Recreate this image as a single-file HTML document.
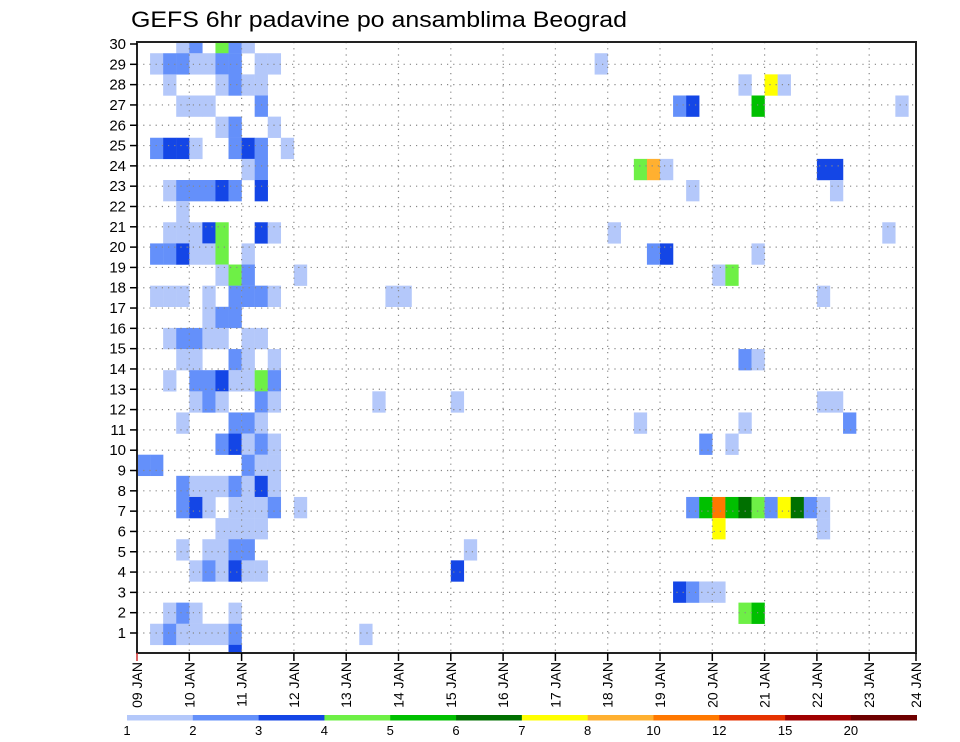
<!DOCTYPE html>
<html><head><meta charset="utf-8"><style>
html,body{margin:0;padding:0;background:#fff;}
svg{display:block;font-family:"Liberation Sans",sans-serif;}
</style></head><body>
<svg id="chart" width="960" height="742" viewBox="0 0 960 742" xmlns="http://www.w3.org/2000/svg">
<text x="131" y="27" font-size="22" textLength="496" lengthAdjust="spacingAndGlyphs" fill="#000">GEFS 6hr padavine po ansamblima Beograd</text>
<defs><clipPath id="plotclip"><rect x="137" y="42" width="779" height="611"/></clipPath></defs>
<g id="cells" clip-path="url(#plotclip)"></g>
<g id="grid"></g>
<rect x="137" y="42" width="779" height="611" fill="none" stroke="#222" stroke-width="2"/>
<g id="yaxis"></g>
<g id="xaxis"></g>
<g id="legend"></g>
</svg>
<script>
// ensemble member (band), 6h time step index from 09 JAN 00z, precip value (mm)
const members = [
30,30,30,30,30,
29,29,29,29,29,29,29,29,29,29,
28,28,28,28,28,28,28,28,
27,27,27,27,27,27,27,27,
26,26,26,
25,25,25,25,25,25,25,25,
24,24,24,24,24,24,24,
23,23,23,23,23,23,23,23,23,
22,
21,21,21,21,21,21,21,21,21,
20,20,20,20,20,20,20,20,20,20,
19,19,19,19,19,19,
18,18,18,18,18,18,18,18,18,18,18,
17,17,17,
16,16,16,16,16,16,16,
15,15,15,15,15,15,15,
14,14,14,14,14,14,14,14,
13,13,13,13,13,13,13,13,13,
12,12,12,12,12,12,12,
11,11,11,11,11,11,11,
10,10,10,10,10,
9,9,9,9,9,9,9,9,
8,8,8,8,8,8,8,8,8,8,8,8,8,8,8,8,8,8,8,
7,7,7,7,7,7,
6,6,6,6,6,6,
5,5,5,5,5,5,5,
4,4,4,4,
3,3,3,3,3,3,
2,2,2,2,2,2,2,2,
1];
const steps = [
3,4,6,7,8,
1,2,3,4,5,6,7,9,10,35,
2,6,7,8,9,46,48,49,
3,4,5,9,41,42,47,58,
6,7,10,
1,2,3,4,7,8,9,11,
8,9,38,39,40,52,53,
2,3,4,5,6,7,9,42,53,
3,
2,3,4,5,6,9,10,36,57,
1,2,3,4,5,6,8,39,40,47,
6,7,8,12,44,45,
1,2,3,5,7,8,9,10,19,20,52,
5,6,7,
2,3,4,5,6,8,9,
3,4,7,8,10,46,47,
2,4,5,6,7,8,9,10,
4,5,6,9,10,18,24,52,53,
3,7,8,9,38,46,54,
6,7,8,9,10,43,45,
0,1,8,9,10,
3,4,5,6,7,8,9,10,
3,4,5,7,8,9,10,12,42,43,44,45,46,47,48,49,50,51,52,
6,7,8,9,44,52,
3,5,6,7,8,25,
4,5,6,7,8,9,24,
41,42,43,44,
2,3,4,7,46,47,
1,2,3,4,5,6,7,17,
7];
const precip = [
1.5,2.5,4.5,2.5,1.5,
1.5,2.5,2.5,1.5,1.5,2.5,2.5,1.5,1.5,1.5,
1.5,1.5,2.5,1.5,1.5,1.5,7.5,1.5,
1.5,1.5,1.5,2.5,2.5,3.5,5.5,1.5,
1.5,2.5,1.5,
2.5,3.5,3.5,1.5,2.5,3.5,2.5,1.5,
1.5,2.5,4.5,9,1.5,3.5,3.5,
1.5,2.5,2.5,2.5,3.5,2.5,3.5,1.5,1.5,
1.5,
1.5,1.5,1.5,3.5,4.5,3.5,1.5,1.5,1.5,
2.5,2.5,3.5,1.5,1.5,4.5,1.5,2.5,3.5,1.5,
1.5,4.5,2.5,1.5,1.5,4.5,
1.5,1.5,1.5,1.5,2.5,2.5,2.5,1.5,1.5,1.5,1.5,
1.5,2.5,2.5,
1.5,2.5,2.5,1.5,1.5,1.5,1.5,
1.5,1.5,2.5,1.5,1.5,2.5,1.5,
1.5,2.5,2.5,3.5,1.5,1.5,4.5,2.5,
1.5,2.5,1.5,2.5,1.5,1.5,1.5,1.5,1.5,
1.5,2.5,2.5,1.5,1.5,1.5,2.5,
2.5,3.5,1.5,2.5,1.5,2.5,1.5,
2.5,2.5,2.5,1.5,1.5,
2.5,1.5,1.5,1.5,2.5,1.5,3.5,1.5,
2.5,3.5,1.5,1.5,1.5,1.5,2.5,1.5,2.5,5.5,11,5.5,6.5,4.5,2.5,7.5,6.5,2.5,1.5,
1.5,1.5,1.5,1.5,7.5,1.5,
1.5,1.5,1.5,2.5,2.5,1.5,
1.5,2.5,1.5,3.5,1.5,1.5,3.5,
3.5,2.5,1.5,1.5,
1.5,2.5,1.5,1.5,4.5,5.5,
1.5,2.5,1.5,1.5,1.5,1.5,2.5,1.5,
3.5];
const levels = [1,2,3,4,5,6,7,8,10,12,15,20];
const levelLabels = ["1","2","3","4","5","6","7","8","10","12","15","20"];
const dayLabels = ["09 JAN","10 JAN","11 JAN","12 JAN","13 JAN","14 JAN","15 JAN","16 JAN","17 JAN","18 JAN","19 JAN","20 JAN","21 JAN","22 JAN","23 JAN","24 JAN"];
const memberTicks = [1,2,3,4,5,6,7,8,9,10,11,12,13,14,15,16,17,18,19,20,21,22,23,24,25,26,27,28,29,30];

const colors = ["#b4c8fa","#6490fa","#1446e6","#6ef046","#00c000","#007000","#ffff00","#ffb030","#ff7800","#e63200","#a00000","#6e0000"];
const NS="http://www.w3.org/2000/svg";
const X0=137, DAY=52.3, STEPW=DAY/4;
const BANDBOT=666, BANDH=21.13;
function xScale(step){return X0+step*STEPW;}
function bandY(m){return BANDBOT-m*BANDH;}
function tickY(m){return 633-(m-1)*20.31;}
function dayX(d){return d===15?916:X0+d*DAY;}
function colorFor(v){let i=0;for(let k=0;k<levels.length;k++){if(v>=levels[k])i=k;}return colors[i];}
function mk(tag,attrs,parent){const e=document.createElementNS(NS,tag);for(const k in attrs)e.setAttribute(k,attrs[k]);parent.appendChild(e);return e;}

const cg=document.getElementById('cells');
for(let i=0;i<members.length;i++){
  const r=mk('rect',{x:xScale(steps[i]),y:bandY(members[i]),width:STEPW+0.2,height:BANDH+0.2,fill:colorFor(precip[i])},cg);
  
  
}
const gg=document.getElementById('grid');
for(let d=1;d<15;d++){
  const l=mk('line',{x1:dayX(d),x2:dayX(d),y1:42,y2:653,stroke:'#888','stroke-width':1.2,'stroke-dasharray':'1.2 5'},gg);
  
  
}
for(const m of memberTicks){
  if(m===30)continue;
  const l=mk('line',{x1:137,x2:916,y1:tickY(m),y2:tickY(m),stroke:'#888','stroke-width':1.2,'stroke-dasharray':'1.2 5'},gg);
  
  
}
const ya=document.getElementById('yaxis');
for(const m of memberTicks){
  const y=tickY(m);
  const t=mk('line',{x1:130,x2:137,y1:y,y2:y,stroke:'#000','stroke-width':1.5},ya);
  
  
  const tx=mk('text',{x:126,y:y+5,'font-size':15,'text-anchor':'end',fill:'#000'},ya);
  tx.textContent=String(m);
  
  
}
const xa=document.getElementById('xaxis');
for(let d=0;d<dayLabels.length;d++){
  const x=dayX(d);
  const t=mk('line',{x1:x,x2:x,y1:653,y2:661,stroke:d===0?'#d03030':'#000','stroke-width':1.5},xa);
  
  
  const tx=mk('text',{transform:'translate('+(x+5)+',662) rotate(-90)','font-size':14,'text-anchor':'end',fill:'#000'},xa);
  tx.textContent=dayLabels[d];
  
  
}
const lg=document.getElementById('legend');
const LX=127, LW=(916.7-127)/levels.length;
for(let i=0;i<levels.length;i++){
  const r=mk('rect',{x:LX+i*LW,y:715,width:LW+0.3,height:5.5,fill:colors[i]},lg);
  
  
  const tx=mk('text',{x:LX+i*LW,y:735,'font-size':13,'text-anchor':'middle',fill:'#000'},lg);
  tx.textContent=levelLabels[i];
  
  
}
</script>
</body></html>
